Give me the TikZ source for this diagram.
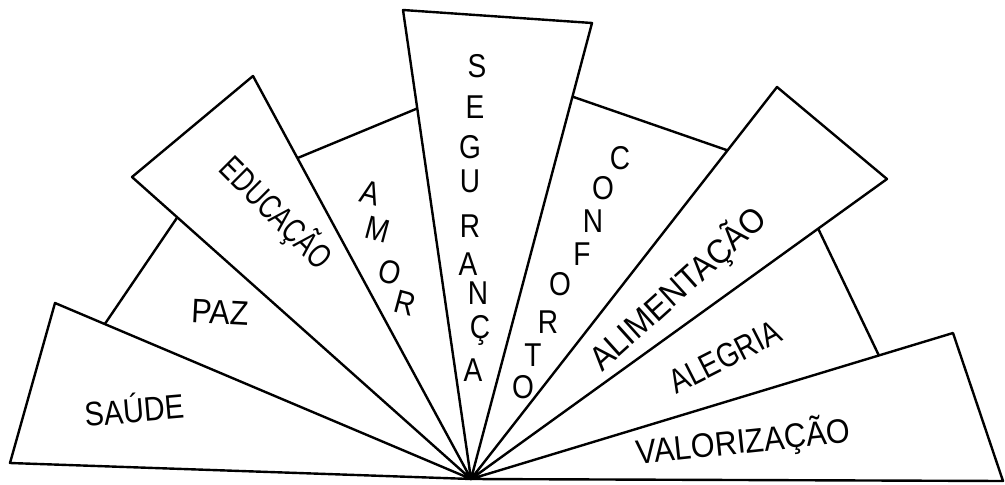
\documentclass[tikz,border=0pt]{standalone}
\usepackage{fontspec}
\setmainfont{Liberation Sans}
\newcommand\hwtext[2][0.8]{\scalebox{#1}[1]{#2}}
\tikzset{
  blade/.style={draw=black, fill=white, line width=2.4pt, line join=round},
  word/.style={inner sep=0pt, font=\fontsize{34}{34}\selectfont},
  letter/.style={inner sep=0pt, font=\fontsize{33}{33}\selectfont}
}
\begin{document}
\begin{tikzpicture}[x=1pt,y=-1pt]
\useasboundingbox (0,0) rectangle (1005,485);
\fill[white] (0,0) rectangle (1005,485);
\coordinate (O) at (471,479);
% back blades
\draw[blade] (O) -- (96,337) -- (185,206) -- cycle;      % PAZ
\draw[blade] (O) -- (288,162) -- (428,104) -- cycle;     % AMOR
\draw[blade] (O) -- (562,93) -- (738,154) -- cycle;      % CONFORTO
\draw[blade] (O) -- (815,222) -- (882,362) -- cycle;     % ALEGRIA
% front blades
\draw[blade] (O) -- (10,463) -- (55,303) -- cycle;       % SAUDE
\draw[blade] (O) -- (132,177) -- (253,76) -- cycle;      % EDUCACAO
\draw[blade] (O) -- (403,10) -- (592,23) -- cycle;       % SEGURANCA
\draw[blade] (O) -- (777,87) -- (887,179) -- cycle;      % ALIMENTACAO
\draw[blade] (O) -- (953,333) -- (1003,481) -- cycle;    % VALORIZACAO
% words
\node[word, rotate=5] (saude) at (134,408) {\hwtext[0.85]{SAÚDE}};
\node[word, rotate=-3] (paz) at (220,312) {\hwtext[0.9]{PAZ}};
\node[word, rotate=-45] (educ) at (276,213) {\hwtext[0.74]{EDUCAÇÃO}};
\node[word, rotate=42] (alim) at (678,289) {\hwtext[0.93]{ALIMENTAÇÃO}};
\node[word, rotate=27] (aleg) at (725,357) {\hwtext[0.82]{ALEGRIA}};
\node[word, rotate=6] (valor) at (743,442) {\hwtext[0.9]{VALORIZAÇÃO}};
% stacked letters
\foreach \l/\x/\y [count=\i] in {A/370/193, M/378/230, O/390/272, R/405/303}
  \node[letter, rotate=-15] (amor\i) at (\x,\y) {\hwtext[0.85]{\l}};
\foreach \l/\x/\y [count=\i] in {S/477/66, E/475/107, G/470/147, U/470/181, R/470/226, A/468/264, N/478/293, Ç/480/330, A/473/370}
  \node[letter] (seg\i) at (\x,\y) {\hwtext[0.85]{\l}};
\foreach \l/\x/\y [count=\i] in {C/620/158, O/603/188, N/593/221, F/582/254, O/560/284, R/548/322, T/533/355, O/523/387}
  \node[letter] (conf\i) at (\x,\y) {\hwtext[0.85]{\l}};
\end{tikzpicture}
\end{document}
